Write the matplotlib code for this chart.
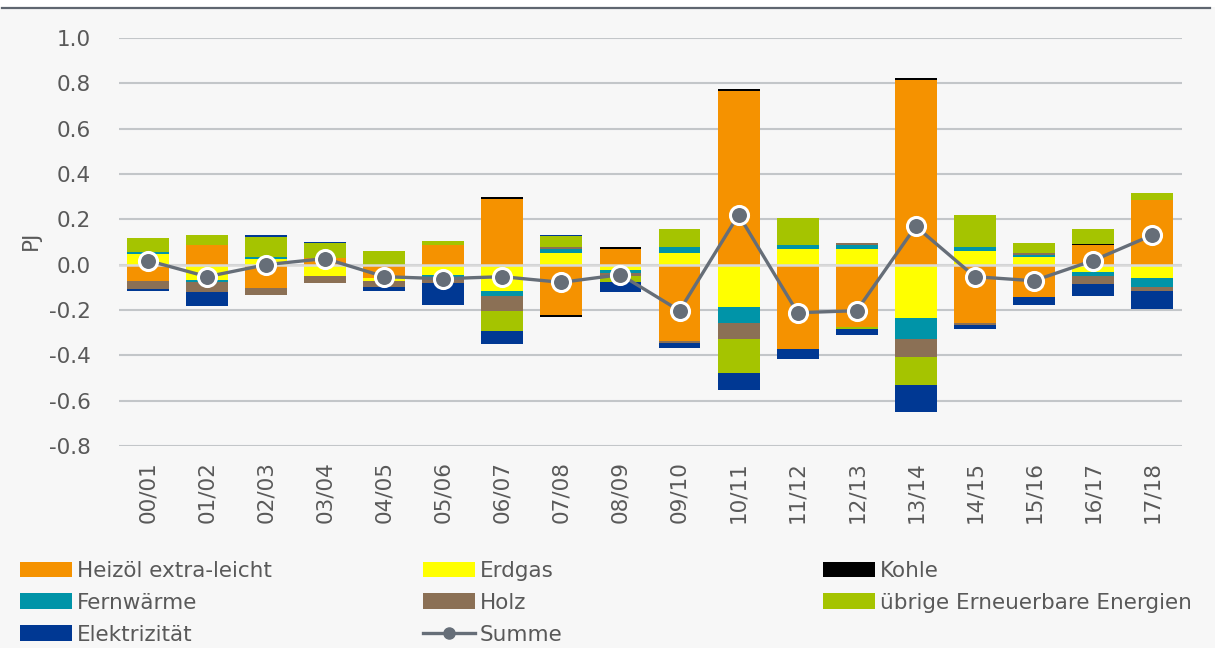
import numpy as np
import matplotlib.pyplot as plt
from matplotlib.patches import Rectangle, Patch
from matplotlib.lines import Line2D

categories = ['00/01', '01/02', '02/03', '03/04', '04/05', '05/06', '06/07', '07/08', '08/09',
              '09/10', '10/11', '11/12', '12/13', '13/14', '14/15', '15/16', '16/17', '17/18']

heizoel = [-0.072, 0.086, -0.105, 0.031, -0.060, 0.088, 0.290, -0.223, 0.070,
           -0.336, 0.767, -0.370, -0.273, 0.815, -0.258, -0.141, 0.086, 0.286]
erdgas = [0.049, -0.068, 0.025, -0.048, -0.010, -0.045, -0.115, 0.052, -0.025,
          0.052, -0.185, 0.070, 0.070, -0.237, 0.060, 0.034, -0.034, -0.061]
kohle = [0, 0, 0, 0, 0, 0, 0.007, -0.007, 0.008,
         0, 0.010, 0, 0, 0.008, 0, 0, 0.007, 0]
fernwaerme = [0.005, -0.010, 0.009, 0, 0, -0.009, -0.025, 0.019, -0.010,
              0.025, -0.071, 0.015, 0.018, -0.089, 0.018, 0.010, -0.018, -0.036]
holz = [-0.035, -0.044, -0.027, -0.034, -0.027, -0.025, -0.063, 0.008, -0.016,
        -0.009, -0.070, 0, 0.009, -0.080, -0.009, 0.007, -0.035, -0.018]
uebrige_ee = [0.062, 0.044, 0.090, 0.063, 0.060, 0.018, -0.089, 0.046, -0.025,
              0.081, -0.151, 0.119, -0.009, -0.124, 0.142, 0.044, 0.065, 0.032]
elektrizitaet = [-0.007, -0.062, 0.006, 0.006, -0.018, -0.098, -0.060, 0.006, -0.046,
                 -0.024, -0.078, -0.044, -0.028, -0.121, -0.015, -0.036, -0.053, -0.081]
summe = [0.018, -0.053, 0.000, 0.027, -0.053, -0.062, -0.053, -0.078, -0.044,
         -0.203, 0.220, -0.212, -0.203, 0.169, -0.053, -0.071, 0.018, 0.130]

series = [
    ('Heizöl extra-leicht', heizoel, '#f59200'),
    ('Erdgas', erdgas, '#ffff00'),
    ('Kohle', kohle, '#000000'),
    ('Fernwärme', fernwaerme, '#0094a8'),
    ('Holz', holz, '#8b7055'),
    ('übrige Erneuerbare Energien', uebrige_ee, '#a5c400'),
    ('Elektrizität', elektrizitaet, '#003893'),
]

txt_col = '#595959'
grid_col = '#c3c6c9'
line_col = '#666e78'

fig = plt.figure(figsize=(12.15, 6.48), dpi=100, facecolor='#f7f7f7')
# white strip above the dark top border
fig.patches.append(Rectangle((0, 1 - 7 / 648), 1, 7 / 648, transform=fig.transFigure,
                             facecolor='white', edgecolor='none', zorder=-10))
fig.lines.append(Line2D([2 / 1215, 1210 / 1215], [1 - 7.5 / 648] * 2, transform=fig.transFigure,
                        color='#5f6670', lw=1.6))

ax = fig.add_axes([118.5 / 1215, 1 - 446 / 648, 1063 / 1215, 408 / 648])
ax.set_facecolor('none')

x = np.arange(len(categories))
pos_base = np.zeros(len(x))
neg_base = np.zeros(len(x))
handles = {}
for name, vals, col in series:
    v = np.array(vals)
    pos = np.where(v > 0, v, 0)
    neg = np.where(v < 0, v, 0)
    ax.bar(x, pos, 0.71, bottom=pos_base, color=col, zorder=2)
    ax.bar(x, neg, 0.71, bottom=neg_base, color=col, zorder=2)
    pos_base += pos
    neg_base += neg
    handles[name] = Patch(facecolor=col)

ax.axhline(0, color='#d9d9d9', lw=1.8, zorder=2.5)
ax.plot(x, summe, color=line_col, lw=2.4, marker='o', ms=13, mfc=line_col,
        mec='white', mew=2.2, zorder=3)

ax.set_xlim(-0.5, len(x) - 0.5)
ax.set_ylim(-0.8, 1.0)
yt = np.round(np.arange(-0.8, 1.01, 0.2), 1)
ax.set_yticks(yt)
ax.set_yticklabels([f'{t + 0.0:.1f}'.replace('-0.0', '0.0') for t in yt])
ax.yaxis.grid(True, color=grid_col, lw=1.5, zorder=1)
ax.set_axisbelow(True)
for s in ax.spines.values():
    s.set_visible(False)
ax.set_xticks(x)
ax.set_xticklabels(categories, rotation=90)
ax.tick_params(axis='y', length=0, pad=20, labelsize=15.5, labelcolor=txt_col)
ax.tick_params(axis='x', length=0, pad=11, labelsize=15.5, labelcolor=txt_col)
ax.set_ylabel('PJ', fontsize=15.5, color=txt_col)
ax.yaxis.set_label_coords(-78 / 1063, (446 - 240) / 408)

# legend: three columns placed by hand
legend_font = {'size': 15.5}
summe_handle = Line2D([], [], color=line_col, lw=2.4, marker='o', ms=8, mfc=line_col, mec=line_col)
columns = [
    (['Heizöl extra-leicht', 'Fernwärme', 'Elektrizität'], 20 / 1215),
    (['Erdgas', 'Holz', 'Summe'], 423 / 1215),
    (['Kohle', 'übrige Erneuerbare Energien'], 823 / 1215),
]
for names, x0 in columns:
    hs = [summe_handle if n == 'Summe' else handles[n] for n in names]
    leg = fig.legend(hs, names, loc='upper left', bbox_to_anchor=(x0, 1 - 561 / 648),
                     frameon=False, prop=legend_font, handlelength=2.4, handleheight=0.75,
                     handletextpad=0.25, labelspacing=0.55, borderpad=0, borderaxespad=0)
    for t in leg.get_texts():
        t.set_color(txt_col)

fig.savefig('out.png', dpi=100, facecolor=fig.get_facecolor())
